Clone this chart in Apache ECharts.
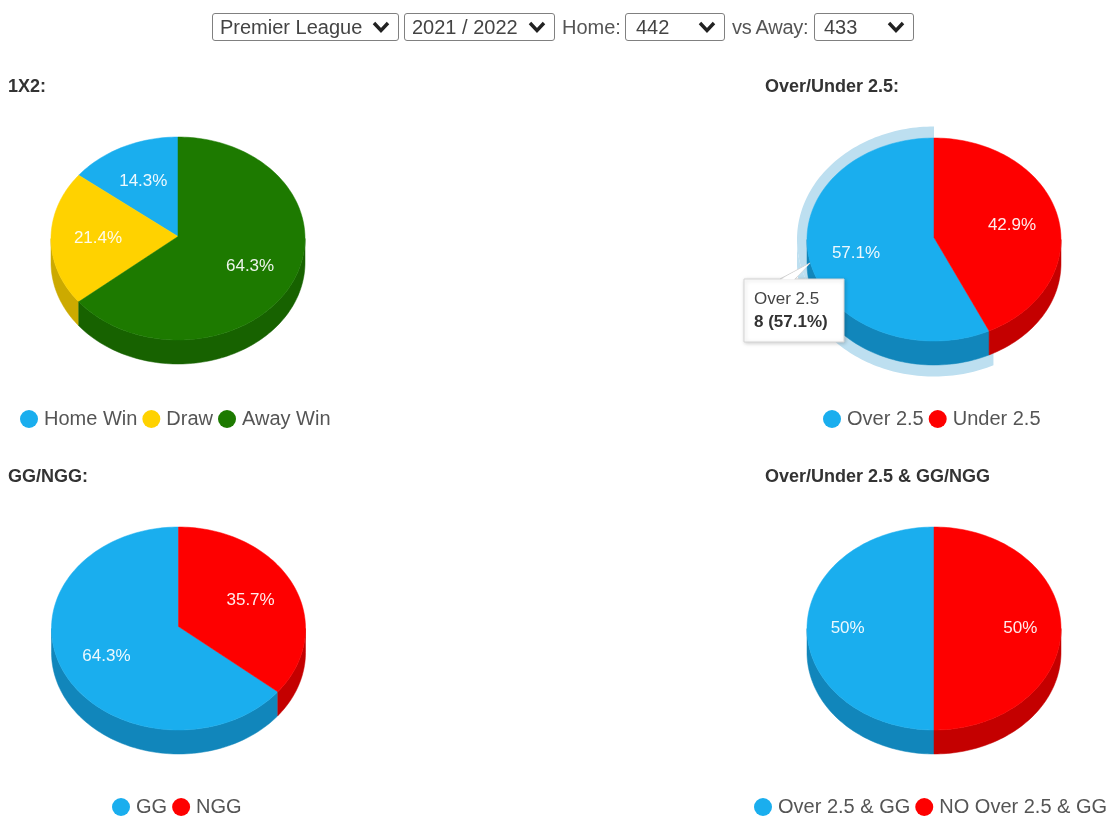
<!DOCTYPE html>
<html><head><meta charset="utf-8">
<style>
html,body{margin:0;padding:0;background:#fff;overflow:hidden}
#c{position:absolute;left:0;top:0;width:1114px;height:816px}
.f{position:absolute;top:13px;height:28px;font:20px "Liberation Sans",Arial,sans-serif;color:#444;z-index:2;box-sizing:border-box}
span.f{line-height:28px;color:#555}
select.f{appearance:none;-webkit-appearance:none;border:1px solid #808080;border-radius:3px;padding:0 0 0 7px;
background:#fff url("data:image/svg+xml,%3Csvg xmlns='http://www.w3.org/2000/svg' width='18' height='12'%3E%3Cpath d='M2 2L9 9.5L16 2' fill='none' stroke='%23222' stroke-width='3.4'/%3E%3C/svg%3E") no-repeat right 8px center}
</style></head><body>
<select class="f" style="left:212px;width:187px"><option>Premier League</option></select>
<select class="f" style="left:404px;width:151px"><option>2021 / 2022</option></select>
<span class="f" style="left:562px">Home:</span>
<select class="f" style="left:625px;width:100px;padding-left:10px"><option>442</option></select>
<span class="f" style="left:732px;letter-spacing:-.3px">vs Away:</span>
<select class="f" style="left:814px;width:100px;padding-left:9px"><option>433</option></select>
<div id="c"></div>
<script src="https://cdn.jsdelivr.net/npm/echarts@6/dist/echarts.min.js"></script>
<script>
const titles1 = "1X2:", titles2 = "Over/Under 2.5:", titles3 = "GG/NGG:", titles4 = "Over/Under 2.5 & GG/NGG";
const cats1 = ["Home Win","Draw","Away Win"];      const vals1 = [2,3,9];
const cats2 = ["Over 2.5","Under 2.5"];            const vals2 = [8,6];
const cats3 = ["GG","NGG"];                        const vals3 = [9,5];
const cats4 = ["Over 2.5 & GG","NO Over 2.5 & GG"];const vals4 = [7,7];
const BLUE="#1aaeee",RED="#fe0000",GREEN="#1d7a00",YEL="#ffd200";
const WALL={[BLUE]:"#1186bb",[RED]:"#c40000",[GREEN]:"#176200",[YEL]:"#ccaa00"};
const RX=127,RY=101.5,DEPTH=24;
const pies=[
 {title:titles1,tx:8,ty:78,cats:cats1,vals:vals1,cols:[BLUE,YEL,GREEN],cx:178,top:137,lx:20,ly:409,lr:.63},
 {title:titles2,tx:765,ty:78,cats:cats2,vals:vals2,cols:[BLUE,RED],cx:934,top:138,lx:823,ly:409,lr:.63,halo:0},
 {title:titles3,tx:8,ty:468,cats:cats3,vals:vals3,cols:[BLUE,RED],cx:178.5,top:527,lx:112,ly:797,lr:.63},
 {title:titles4,tx:765,ty:468,cats:cats4,vals:vals4,cols:[BLUE,RED],cx:934,top:527,lx:754,ly:797,lr:.68}
];
function pct(v,t){return (Math.round(v/t*1000)/10)+"%";}
function arc(cx,cy,rx,ry,f0,f1,dy){
  const n=Math.max(2,Math.ceil(Math.abs(f1-f0)*240)),p=[];
  for(let k=0;k<=n;k++){const t=(f0+(f1-f0)*k/n)*2*Math.PI;
    p.push([cx-rx*Math.sin(t),cy-ry*Math.cos(t)+(dy||0)]);}
  return p;
}
const series=[],titleOpt=[],legendOpt=[];
pies.forEach((P,pi)=>{
  const total=P.vals.reduce((a,b)=>a+b,0),cy=P.top+RY,ay=cy-2;
  titleOpt.push({text:P.title,left:P.tx,top:P.ty,padding:0,textStyle:{fontFamily:"Liberation Sans",fontSize:18,fontWeight:"bold",color:"#333"}});
  legendOpt.push({left:P.lx,top:P.ly,padding:0,itemGap:5,itemWidth:18,itemHeight:18,icon:"circle",data:P.cats,selectedMode:false,
    textStyle:{fontFamily:"Liberation Sans",fontSize:20,color:"#555",padding:[0,0,0,1]}});
  let cum=0;
  P.vals.forEach((v,i)=>{
    const f0=cum/total,f1=(cum+v)/total;cum+=v;
    const col=P.cols[i];
    series.push({type:"custom",name:P.cats[i],coordinateSystem:"none",silent:true,z:2+i,
      itemStyle:{color:col},data:[[v]],
      renderItem(params,api){
        const val=api.value(0),ch=[];
        if(P.halo===i){
          const a=arc(P.cx,cy,RX+10,RY+11.5,f0,f1);
          const lo=Math.max(f0,.25),hi=Math.min(f1,.75);
          const w=arc(P.cx,cy,RX+10,RY+11.5,lo,hi);
          const wb=arc(P.cx,cy,RX+10,RY+11.5,lo,hi,DEPTH).reverse();
          ch.push({type:"polygon",shape:{points:[[P.cx,ay]].concat(a)},style:{fill:"#bddff0"}});
          ch.push({type:"polygon",shape:{points:w.concat(wb)},style:{fill:"#bddff0"}});
        }
        const lo=Math.max(f0,.25),hi=Math.min(f1,.75);
        if(hi>lo){
          ch.push({type:"polygon",shape:{points:arc(P.cx,cy,RX,RY,lo,hi).concat(arc(P.cx,cy,RX,RY,lo,hi,DEPTH).reverse())},
            style:{fill:WALL[col],stroke:WALL[col],lineWidth:.5}});
        }
        ch.push({type:"polygon",shape:{points:[[P.cx,ay]].concat(arc(P.cx,cy,RX,RY,f0,f1))},style:{fill:col,stroke:col,lineWidth:.5}});
        const m=(f0+f1)/2*2*Math.PI;
        ch.push({type:"text",z2:50,style:{x:P.cx-RX*P.lr*Math.sin(m),y:cy-RY*P.lr*Math.cos(m),text:pct(val,total),
          fill:"#fff",align:"center",verticalAlign:"middle",font:'17px "Liberation Sans"',opacity:.92}});
        return {type:"group",children:ch};
      }});
  });
});
const tipP=pies[1];
const tipZ={zlevel:1,z:100};
const chart=echarts.init(document.getElementById("c"),null,{renderer:"canvas"});
chart.setOption({animation:false,backgroundColor:"#fff",title:titleOpt,legend:legendOpt,tooltip:{show:false},series,
 graphic:{elements:[
  {type:"polygon",...tipZ,shape:{points:[[810,263],[780,279],[795,279]]},style:{fill:"#fff",stroke:"#d5d5d5",lineWidth:1}},
  {type:"rect",...tipZ,z:101,shape:{x:744,y:279,width:100,height:63},style:{fill:"#fff",stroke:"#d5d5d5",lineWidth:1,shadowBlur:4,shadowColor:"rgba(0,0,0,.2)",shadowOffsetX:1,shadowOffsetY:1}},
  {type:"polygon",...tipZ,z:102,shape:{points:[[809,264],[781,279.5],[794,279.5]]},style:{fill:"#fff"}},
  {type:"text",...tipZ,z:103,style:{x:754,y:291,text:tipP.cats[0],font:'17px "Liberation Sans"',fill:"#444"}},
  {type:"text",...tipZ,z:103,style:{x:754,y:314,text:tipP.vals[0]+" ("+pct(tipP.vals[0],14)+")",font:'bold 17px "Liberation Sans"',fill:"#333"}}
 ]}
});
</script></body></html>
